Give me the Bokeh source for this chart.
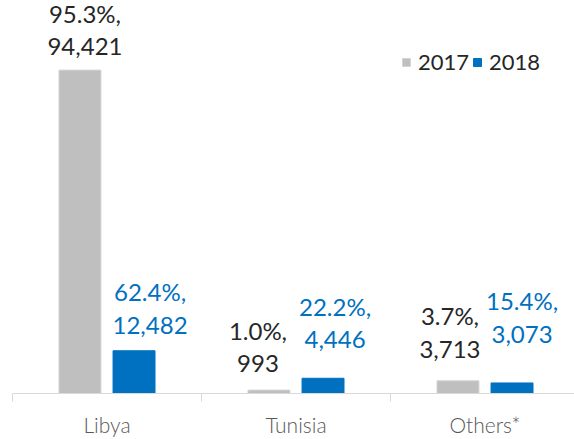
from bokeh.plotting import figure
from bokeh.models import Range1d, FixedTicker, ColumnDataSource, Legend, LegendItem
from bokeh.core.properties import value
from bokeh.embed import file_html
from bokeh.resources import INLINE

# ---- data ----
categories = ["Libya", "Tunisia", "Others*"]
series = ["2017", "2018"]
values_2017 = [94421, 993, 3713]
values_2018 = [12482, 4446, 3073]
shares_2017 = ["95.3%", "1.0%", "3.7%"]
shares_2018 = ["62.4%", "22.2%", "15.4%"]

# ---- style / layout ----
GRAY = "#BFBFBF"
BLUE = "#0070C0"
DARK = "#262626"
FONT = "Lato"
LIGHT_FONT = "'Lato Light', Lato"
BAR_W = 0.222
HALF_GAP = 0.143
# label offsets (pixels) relative to bar center/top
lab_dx_2017 = [5, -11, -8]
lab_dx_2018 = [16, 12, 10]
lab_gap_2017 = [10, 13, 18]
lab_gap_2018 = [12, 25, 35]
DESC = 0

n = len(categories)
centers = [i + 0.5 for i in range(n)]

def label_text(share, val):
    return f"{share},\n{val:,}"

src17 = ColumnDataSource(dict(
    x=[c - HALF_GAP for c in centers], top=values_2017,
    text=[label_text(s, v) for s, v in zip(shares_2017, values_2017)],
    dx=lab_dx_2017, dy=[-(g - DESC) for g in lab_gap_2017]))
src18 = ColumnDataSource(dict(
    x=[c + HALF_GAP for c in centers], top=values_2018,
    text=[label_text(s, v) for s, v in zip(shares_2018, values_2018)],
    dx=lab_dx_2018, dy=[-(g - DESC) for g in lab_gap_2018]))

p = figure(width=574, height=439, output_backend="svg", toolbar_location=None,
           x_range=Range1d(0, 562 / 189), y_range=Range1d(0, 114750),
           min_border_left=12, min_border_right=0, min_border_top=0, min_border_bottom=44)
p.outline_line_color = None
p.grid.visible = False
p.yaxis.visible = False
p.background_fill_color = "white"

r17 = p.vbar(x="x", top="top", width=BAR_W, source=src17, fill_color=GRAY, line_color="#D4D4D4", line_width=1)
r18 = p.vbar(x="x", top="top", width=BAR_W, source=src18, fill_color=BLUE, line_color=BLUE, line_width=1)

p.text(x="x", y="top", text="text", x_offset="dx", y_offset="dy", source=src17,
       text_align="center", text_baseline="bottom", text_font=value(FONT),
       text_font_size="24px", text_color=DARK, text_line_height=1.12)
p.text(x="x", y="top", text="text", x_offset="dx", y_offset="dy", source=src18,
       text_align="center", text_baseline="bottom", text_font=value(FONT),
       text_font_size="24px", text_color=BLUE, text_line_height=1.12)

ax = p.xaxis[0]
ax.ticker = FixedTicker(ticks=centers, minor_ticks=list(range(n)))
ax.major_label_overrides = {c: cat for c, cat in zip(centers, categories)}
ax.major_tick_out = 0
ax.major_tick_in = 0
ax.minor_tick_out = 8
ax.minor_tick_in = 0
ax.minor_tick_line_color = "#D9D9D9"
ax.axis_line_color = "#D9D9D9"
ax.major_label_text_font = LIGHT_FONT
ax.major_label_text_font_size = "21px"
ax.major_label_text_color = "#595959"
ax.major_label_standoff = 10

legend = Legend(items=[LegendItem(label=series[0], renderers=[r17]),
                       LegendItem(label=series[1], renderers=[r18])],
                orientation="horizontal", location=(389, 318),
                glyph_width=10, glyph_height=10, label_standoff=7, spacing=3,
                padding=0, margin=0, border_line_color=None,
                background_fill_alpha=0,
                label_text_font=FONT, label_text_font_size="22px",
                label_text_color=DARK)
p.add_layout(legend)

open("out.html", "w").write(file_html(p, INLINE))
